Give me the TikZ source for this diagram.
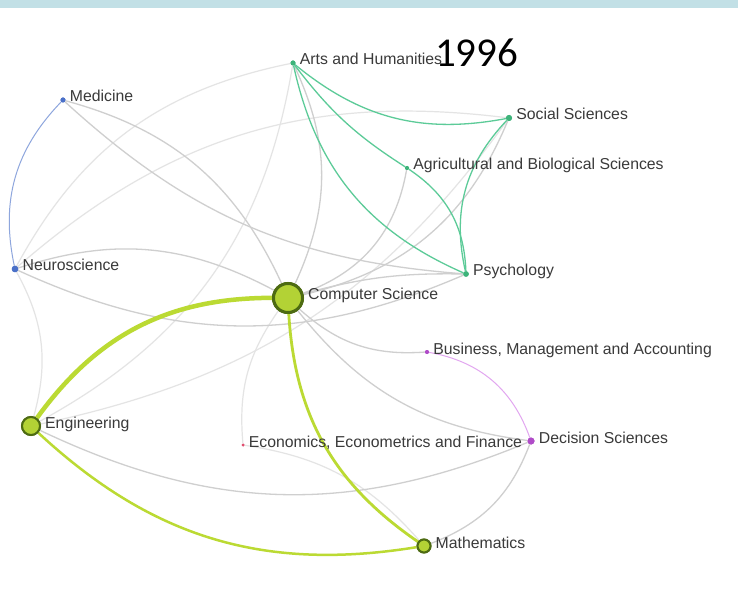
\documentclass[tikz,border=0pt]{standalone}
\usepackage{fontspec}
\setmainfont{Liberation Sans}
\newfontfamily\titlefont{Carlito}
\definecolor{barblue}{HTML}{C2E0E6}
\definecolor{greenedge}{HTML}{5CCB98}
\definecolor{greendot}{HTML}{3DB37A}
\definecolor{blueedge}{HTML}{8EA6DD}
\definecolor{bluedot}{HTML}{4A70C8}
\definecolor{purpleedge}{HTML}{E2A6F0}
\definecolor{purpledot}{HTML}{B04CC8}
\definecolor{reddot}{HTML}{E05070}
\definecolor{limefill}{HTML}{B3D235}
\definecolor{limeedge}{HTML}{BBDA33}
\definecolor{limeborder}{HTML}{4D6B12}
\definecolor{greyA}{HTML}{CFCFCF}
\definecolor{greyB}{HTML}{E4E4E4}
\definecolor{labeltext}{HTML}{3A3A3A}
\tikzset{
  dot/.style={circle,inner sep=0pt,minimum size=#1},
  gdot/.style={dot=#1,fill=greendot},
  bdot/.style={dot=#1,fill=bluedot},
  pdot/.style={dot=#1,fill=purpledot},
  rdot/.style={dot=#1,fill=reddot},
  ldot/.style={dot=#1,fill=limefill,draw=limeborder},
  lbl/.style={anchor=base west,inner sep=0pt,text=labeltext,font=\fontsize{15.8}{18}\selectfont},
  greymid/.style={draw=greyA,line width=1.3pt},
  greylight/.style={draw=greyB,line width=1.2pt},
  greenline/.style={draw=greenedge,line width=1.3pt},
  blueline/.style={draw=blueedge,line width=1pt},
  purpleline/.style={draw=purpleedge,line width=1pt},
  limeline/.style={draw=limeedge,line width=#1},
}
\begin{document}
\begin{tikzpicture}[x=1pt,y=1pt]
\fill[white] (0,0) rectangle (738,603);
\useasboundingbox (0,0) rectangle (738,603);
\fill[barblue] (0,595) rectangle (738,603);

% nodes (y = 603 - pixel y)
\node[gdot=5pt] (arts) at (293,540) {};
\node[gdot=6pt] (soc) at (509,485) {};
\node[gdot=4pt] (agri) at (407,435) {};
\node[gdot=5.5pt] (psy) at (466,329) {};
\node[bdot=5pt] (med) at (63,503) {};
\node[bdot=6.5pt] (neuro) at (15,334) {};
\node[pdot=4pt] (bus) at (427,251) {};
\node[pdot=7pt] (dec) at (531,162) {};
\node[rdot=3pt] (eco) at (243,158) {};
\node[ldot=29pt,line width=3pt] (cs) at (288,305) {};
\node[ldot=18pt,line width=2pt] (eng) at (31,177) {};
\node[ldot=13pt,line width=2pt] (math) at (424,57) {};

% grey connectors
\draw[greylight] (neuro) to[bend left=25] (arts);
\draw[greylight] (neuro) to[bend left=24] (soc);
\draw[greylight] (neuro) to[bend left=22] (eng);
\draw[greylight] (arts) to[bend left=26] (eng);
\draw[greylight] (cs) to[bend right=20] (eco);
\draw[greylight] (eco) to[bend left=20] (math);
\draw[greylight] (eng) to[bend right=21] (soc);
\draw[greymid] (neuro) to[bend right=24] (psy);
\draw[greymid] (med) to[bend right=19] (psy);
\draw[greymid] (cs) to[bend right=25] (med);
\draw[greymid] (cs) to[bend right=23] (neuro);
\draw[greymid] (cs) to[bend right=25] (arts);
\draw[greymid] (cs) to[bend right=30] (agri);
\draw[greymid] (cs) to[bend right=27] (soc);
\draw[greymid] (cs) to[bend left=8] (psy);
\draw[greymid] (cs) to[bend right=23] (bus);
\draw[greymid] (cs) to[bend right=22] (dec);
\draw[greymid] (eng) to[bend right=24] (dec);
\draw[greymid] (dec) to[bend left=24] (math);

% coloured connectors
\draw[greenline] (arts) to[bend right=25] (soc);
\draw[greenline] (arts) to[bend right=10] (agri);
\draw[greenline] (arts) to[bend right=27] (psy);
\draw[greenline] (agri) to[bend left=27] (psy);
\draw[greenline] (soc) to[bend right=28] (psy);
\draw[blueline] (med) to[bend right=28] (neuro);
\draw[purpleline] (bus) to[bend left=30] (dec);
\draw[limeline=2.5pt] (eng) to[bend right=26] (math);
\draw[limeline=2.8pt] (cs) to[bend right=26] (math);
\draw[limeline=4.5pt] (cs) to[bend right=27] (eng);

% redraw nodes on top
\node[gdot=5pt] at (arts) {};
\node[gdot=6pt] at (soc) {};
\node[gdot=4pt] at (agri) {};
\node[gdot=5.5pt] at (psy) {};
\node[bdot=5pt] at (med) {};
\node[bdot=6.5pt] at (neuro) {};
\node[pdot=4pt] at (bus) {};
\node[pdot=7pt] at (dec) {};
\node[rdot=3pt] at (eco) {};
\node[ldot=29pt,line width=3pt] at (cs) {};
\node[ldot=18pt,line width=2pt] at (eng) {};
\node[ldot=13pt,line width=2pt] at (math) {};

% labels
\node[lbl] (artsl) at ([shift={(4,-2)}]arts.east) {Arts and Humanities};
\node[lbl] (socl) at ([shift={(4,-2)}]soc.east) {Social Sciences};
\node[lbl] (agril) at ([shift={(4,-2)}]agri.east) {Agricultural and Biological Sciences};
\node[lbl] (psyl) at ([shift={(4,-2)}]psy.east) {Psychology};
\node[lbl] (medl) at ([shift={(4,-2)}]med.east) {Medicine};
\node[lbl] (neurol) at ([shift={(4,-2)}]neuro.east) {Neuroscience};
\node[lbl] (busl) at ([shift={(4,-2)}]bus.east) {Business, Management and Accounting};
\node[lbl] (decl) at ([shift={(4,-2)}]dec.east) {Decision Sciences};
\node[lbl] (ecol) at ([shift={(4,-2)}]eco.east) {Economics, Econometrics and Finance};
\node[lbl] (csl) at ([shift={(4,-2)}]cs.east) {Computer Science};
\node[lbl] (engl) at ([shift={(4,-2)}]eng.east) {Engineering};
\node[lbl] (mathl) at ([shift={(4,-2)}]math.east) {Mathematics};

% title
\node[anchor=base west,inner sep=0pt,font=\titlefont\fontsize{41}{44}\selectfont] (title) at (435,536) {1996};
\end{tikzpicture}
\end{document}
